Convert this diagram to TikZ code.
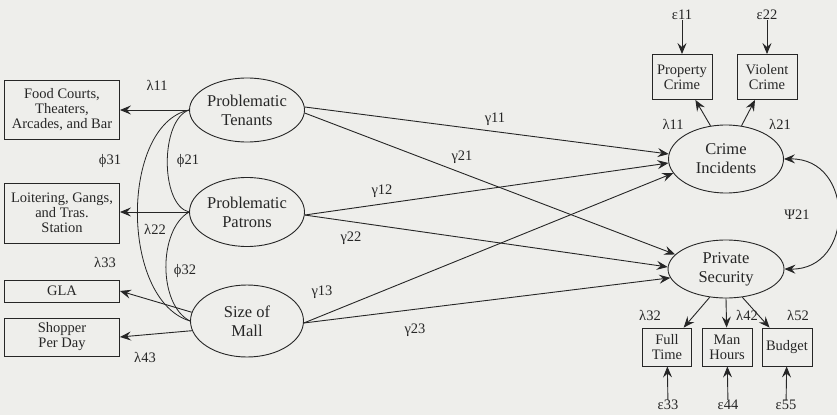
\documentclass[tikz,border=0pt]{standalone}
\usepackage{fontspec}
\setmainfont{Liberation Serif}
\usetikzlibrary{arrows.meta,shapes.geometric}
\definecolor{paper}{RGB}{238,238,235}
\definecolor{ink}{RGB}{38,38,38}
\begin{document}
\begin{tikzpicture}[x=1pt,y=-1pt,
  every node/.style={text=ink},
  obs/.style={draw=ink,line width=0.9pt,rectangle,align=center,inner sep=1pt,font=\fontsize{14.5}{15}\selectfont},
  lat/.style={draw=ink,line width=0.9pt,ellipse,align=center,inner sep=0pt,font=\fontsize{16.5}{19}\selectfont},
  lab/.style={font=\fontsize{14.5}{15}\selectfont,inner sep=0pt},
  arr/.style={draw=ink,line width=0.9pt,-{Stealth[length=11pt,width=9pt,inset=4pt]}},
  dbl/.style={draw=ink,line width=0.9pt,{Stealth[length=11pt,width=9pt,inset=4pt]}-{Stealth[length=11pt,width=9pt,inset=4pt]}},
  cov/.style={draw=ink,line width=0.8pt}]
\fill[paper] (0,0) rectangle (837,415);
\useasboundingbox (0,0) rectangle (837,415);

% observed (left)
\node[obs,minimum width=115,minimum height=59] (b1) at (62,110) {Food Courts,\\Theaters,\\Arcades, and Bar};
\node[obs,minimum width=115,minimum height=60] (b2) at (62,213) {Loitering, Gangs,\\and Tras.\\Station};
\node[obs,minimum width=115,minimum height=22] (b3) at (62,291) {GLA};
\node[obs,minimum width=115,minimum height=38] (b4) at (62,337) {Shopper\\Per Day};

% exogenous latents
\node[lat,minimum width=115,minimum height=64] (T) at (247,110) {Problematic\\Tenants};
\node[lat,minimum width=115,minimum height=69] (P) at (247,212) {Problematic\\Patrons};
\node[lat,minimum width=113,minimum height=72] (M) at (247,321) {Size of\\Mall};

% endogenous latents
\node[lat,minimum width=115,minimum height=68] (CI) at (726,159) {Crime\\Incidents};
\node[lat,minimum width=116,minimum height=58] (PS) at (726,269) {Private\\Security};

% observed (right)
\node[obs,minimum width=60,minimum height=45] (pc) at (682,77) {Property\\Crime};
\node[obs,minimum width=60,minimum height=45] (vc) at (767,77) {Violent\\Crime};
\node[obs,minimum width=49,minimum height=38] (ft) at (667,347) {Full\\Time};
\node[obs,minimum width=50,minimum height=38] (mh) at (727,347) {Man\\Hours};
\node[obs,minimum width=50,minimum height=38] (bu) at (787,347) {Budget};

% error terms
\node[lab] (e11) at (682,15) {ε11};
\node[lab] (e22) at (767,15) {ε22};
\node[lab] (e33) at (668,405) {ε33};
\node[lab] (e44) at (728,405) {ε44};
\node[lab] (e55) at (786,405) {ε55};
\draw[arr] (e11) -- (pc);
\draw[arr] (e22) -- (vc);
\draw[arr] (e33) -- (ft);
\draw[arr] (e44) -- (mh);
\draw[arr] (e55) -- (bu);

% left loadings
\draw[arr] (T.west) -- (b1.east);
\draw[arr] (P.west) -- (P.west -| b2.east);
\draw[arr] (M.171) -- (b3.east);
\draw[arr] (M.190) -- (b4.east);

% covariances among exogenous
\draw[cov] (T.west) .. controls (160,120) and (160,205) .. (P.west);
\draw[cov] (T.west) .. controls (120,125) and (120,300) .. (M.west);
\draw[cov] (P.west) .. controls (158,230) and (158,305) .. (M.west);

% structural paths
\draw[arr] (T.3) -- (CI.175);
\draw[arr] (P.-3) -- (CI.184);
\draw[arr] (M.-2) -- (CI.195);
\draw[arr] (T.-3) -- (PS.164);
\draw[arr] (P.-3) -- (PS.178);
\draw[arr] (M.-2) -- (PS.189);

% right loadings
\draw[arr] (CI.115) -- (pc);
\draw[arr] (CI.65) -- (vc);
\draw[arr] (PS.240) -- (ft);
\draw[arr] (PS.south) -- (mh);
\draw[arr] (PS.300) -- (bu);

% disturbance covariance
\draw[dbl] (CI.east) .. controls (855,158) and (855,270) .. (PS.east);

% labels
\node[lab] at (157,85) {λ11};
\node[lab] at (110,161) {ϕ31};
\node[lab] at (188,161) {ϕ21};
\node[lab] at (155,229) {λ22};
\node[lab] at (105,262) {λ33};
\node[lab] at (185,271) {ϕ32};
\node[lab] at (145,357) {λ43};
\node[lab] at (495,119) {γ11};
\node[lab] at (462,157) {γ21};
\node[lab] at (382,191) {γ12};
\node[lab] at (351,238) {γ22};
\node[lab] at (322,292) {γ13};
\node[lab] at (415,330) {γ23};
\node[lab] at (673,124) {λ11};
\node[lab] at (780,124) {λ21};
\node[lab] at (797,215) {Ψ21};
\node[lab] at (650,315) {λ32};
\node[lab] at (747,315) {λ42};
\node[lab] at (798,315) {λ52};
\end{tikzpicture}
\end{document}
